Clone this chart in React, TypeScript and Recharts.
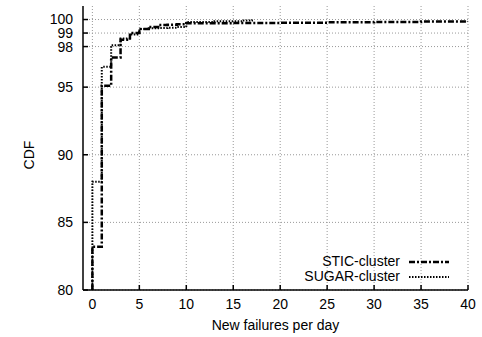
import { LineChart, Line, XAxis, YAxis, CartesianGrid, Legend } from 'recharts';

// failures per day (x) and CDF in percent (y)
const sticX = [0, 0, 1, 2, 3, 4, 5, 6, 7, 8, 9, 10, 15, 20, 25, 30, 35, 40];
const sticY = [80, 83.2, 95.1, 97.2, 98.5, 99.0, 99.3, 99.45, 99.6, 99.62, 99.65, 99.72, 99.75, 99.77, 99.8, 99.82, 99.85, 99.9];

const sugarX = [0, 0, 1, 2, 3, 4, 5, 6, 7, 8, 9, 10, 13, 16, 17];
const sugarY = [80, 88.0, 96.5, 98.1, 98.6, 98.9, 99.3, 99.35, 99.38, 99.4, 99.45, 99.82, 99.87, 99.93, 100];

const xTicks = [0, 5, 10, 15, 20, 25, 30, 35, 40];
const yTicks = [80, 85, 90, 95, 98, 99, 100];

const FONT = '"Liberation Sans", Arial, Helvetica, sans-serif';

const sticData = sticX.map((x, i) => ({ x, y: sticY[i] }));
const sugarData = sugarX.map((x, i) => ({ x, y: sugarY[i] }));

const seriesStyle: Record<string, { dash: string; width: number }> = {
  'STIC-cluster': { dash: '6 2 2 2', width: 2.5 },
  'SUGAR-cluster': { dash: '1.5 1.5', width: 2 },
};

function LegendBox({ payload }: any) {
  return (
    <div style={{ fontFamily: FONT, fontSize: 14, color: '#000' }}>
      {(payload || []).map((p: any) => {
        const st = seriesStyle[p.value];
        return (
          <div key={p.value} style={{ display: 'flex', justifyContent: 'flex-end', alignItems: 'center', height: 15 }}>
            <span style={{ lineHeight: '15px' }}>{p.value}</span>
            <svg width={49} height={8} style={{ display: 'block' }}>
              <line x1={9} y1={4} x2={49} y2={4} stroke="#000" strokeWidth={st.width} strokeDasharray={st.dash} />
            </svg>
          </div>
        );
      })}
    </div>
  );
}

function CdfLabel() {
  return (
    <text x={34} y={155} transform="rotate(-90 34 155)" textAnchor="middle" fontFamily={FONT} fontSize={14} fill="#000">
      CDF
    </text>
  );
}

export default function App() {
  const tickStyle = { fontFamily: FONT, fontSize: 14, fill: '#000' };
  const blank = () => '';
  return (
    <div style={{ position: 'absolute', left: 0, top: 0, background: '#fff' }}>
      <LineChart width={482} height={337} margin={{ top: 6, right: 14, left: 43, bottom: 0 }}>
        <CartesianGrid stroke="#999" strokeDasharray="1 2" horizontalValues={yTicks} verticalValues={xTicks} />
        <XAxis
          xAxisId={0}
          type="number"
          dataKey="x"
          domain={[-1, 40]}
          ticks={xTicks}
          interval={0}
          allowDataOverflow
          height={47}
          stroke="#000"
          strokeWidth={1.5}
          tickSize={-5}
          tickMargin={14}
          tick={tickStyle}
          label={{ value: 'New failures per day', position: 'insideBottom', offset: 7, style: { fontFamily: FONT, fontSize: 14, fill: '#000' } }}
        />
        <XAxis
          xAxisId="top"
          orientation="top"
          type="number"
          domain={[-1, 40]}
          ticks={xTicks}
          interval={0}
          allowDataOverflow
          height={0}
          stroke="#000"
          strokeWidth={1.5}
          tickSize={-5}
          tickFormatter={blank}
        />
        <YAxis
          yAxisId={0}
          type="number"
          domain={[80, 101]}
          ticks={yTicks}
          interval={0}
          allowDataOverflow
          width={40}
          stroke="#000"
          strokeWidth={1.5}
          tickSize={-5}
          tickMargin={15}
          tick={tickStyle}
          label={<CdfLabel />}
        />
        <YAxis
          yAxisId="right"
          orientation="right"
          type="number"
          domain={[80, 101]}
          ticks={yTicks}
          interval={0}
          allowDataOverflow
          width={0}
          stroke="#000"
          strokeWidth={1.5}
          tickSize={-5}
          tickFormatter={blank}
        />
        <Legend
          layout="vertical"
          verticalAlign="middle"
          align="center"
          content={<LegendBox />}
          wrapperStyle={{ left: 274, top: 254, width: 175 }}
        />
        <Line
          data={sticData}
          dataKey="y"
          name="STIC-cluster"
          type="stepAfter"
          stroke="#000"
          strokeWidth={2.5}
          strokeDasharray="6 2 2 2"
          dot={false}
          isAnimationActive={false}
        />
        <Line
          data={sugarData}
          dataKey="y"
          name="SUGAR-cluster"
          type="stepAfter"
          stroke="#000"
          strokeWidth={2}
          strokeDasharray="1.5 1.5"
          dot={false}
          isAnimationActive={false}
        />
      </LineChart>
    </div>
  );
}
